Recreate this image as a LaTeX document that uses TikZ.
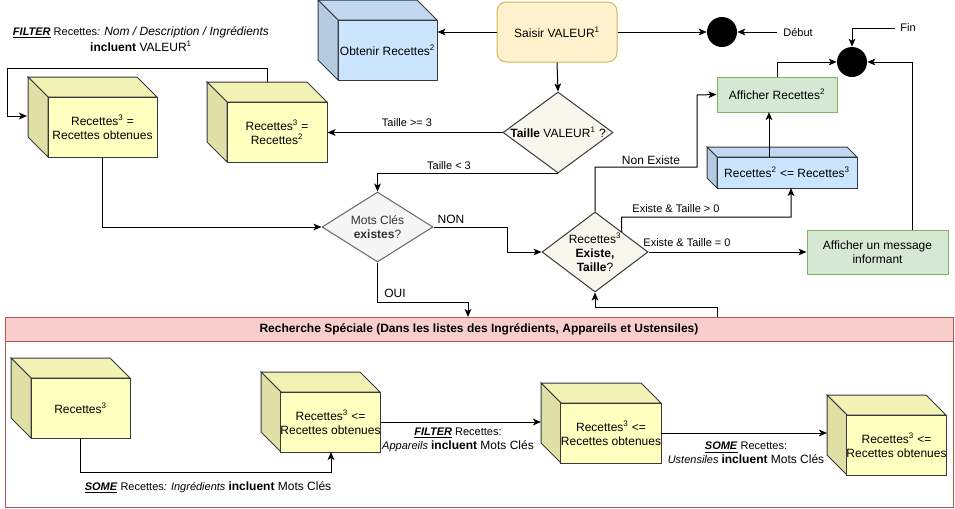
\documentclass[tikz,border=0pt]{standalone}
\usepackage{fontspec}
\setmainfont{Liberation Sans}
\usetikzlibrary{arrows.meta,shapes.geometric}
\definecolor{yfront}{RGB}{255,255,192}
\definecolor{ytop}{RGB}{242,242,180}
\definecolor{yside}{RGB}{224,224,166}
\definecolor{bfront}{RGB}{204,229,255}
\definecolor{btop}{RGB}{193,216,240}
\definecolor{bside}{RGB}{181,203,226}
\definecolor{cubestroke}{HTML}{36393D}
\definecolor{orfill}{HTML}{FFF2CC}
\definecolor{orstroke}{HTML}{D6B656}
\definecolor{grfill}{HTML}{D5E8D4}
\definecolor{grstroke}{HTML}{82B366}
\definecolor{dfill}{HTML}{F9F7ED}
\definecolor{gfill}{HTML}{F5F5F5}
\definecolor{gstroke}{HTML}{666666}
\definecolor{gtext}{HTML}{333333}
\definecolor{redfill}{HTML}{F8CECC}
\definecolor{redstroke}{HTML}{B85450}
\newcommand\mycube[8]{%
  \filldraw[cubeline, fill=#7top] ({#2-#6},{#3-#6}) -- ({#4-#6},{#3-#6}) -- (#4,#3) -- (#2,#3) -- cycle;
  \filldraw[cubeline, fill=#7side] ({#2-#6},{#3-#6}) -- (#2,#3) -- (#2,#5) -- ({#2-#6},{#5-#6}) -- cycle;
  \node[cubeline, fill=#7front, txt, inner sep=0pt, minimum width={(#4-#2)*0.75pt}, minimum height={(#5-#3)*0.75pt}] (#1) at ({(#2+#4)/2},{(#3+#5)/2}) {#8};
  \coordinate (#1top) at ({(#2-#6+#4)/2},{#3-#6});
}
\newcommand\sm{\fontsize{8.25}{9.5}\selectfont}
\newcommand\nm{\fontsize{9}{10.5}\selectfont}
\begin{document}
\begin{tikzpicture}[x=0.75pt,y=-0.75pt,
  line/.style={draw=black, line width=0.75pt},
  arr/.style={line, -{Stealth[length=6pt,width=5pt,inset=1.5pt]}},
  cubeline/.style={draw=cubestroke, line width=0.75pt},
  txt/.style={font=\nm, align=center},
  lbl/.style={font=\sm, align=center, inner sep=0pt},
  lblb/.style={font=\nm, align=center, inner sep=0pt},
  dot/.style={circle, fill=black, minimum size=22.5pt, inner sep=0pt},
  dia/.style={diamond, line width=0.75pt, inner sep=0pt, txt}
]
\useasboundingbox (0,0) rectangle (955,508);

% container
\node[draw=redstroke, line width=0.75pt, anchor=north west, inner sep=0pt,
  minimum width={948*0.75pt}, minimum height={190*0.75pt}] (special) at (5,317) {};
\filldraw[draw=redstroke, line width=0.75pt, fill=redfill] (5,317) rectangle (953,341);
\node[txt, font=\nm\bfseries] (title) at (479,329) {Recherche Spéciale (Dans les listes des Ingrédients, Appareils et Ustensiles)};

% top cubes
\mycube{cA}{48}{97}{157}{157}{20}{y}{Recettes\textsuperscript{3} =\\Recettes obtenues}
\mycube{cB}{227}{102}{327}{162}{20}{y}{Recettes\textsuperscript{3} =\\Recettes\textsuperscript{2}}
\mycube{obt}{338}{20}{437}{80}{20}{b}{Obtenir Recettes\textsuperscript{2}}
\mycube{r23}{717}{157}{857}{188}{10}{b}{Recettes\textsuperscript{2} <= Recettes\textsuperscript{3}}

% bottom cubes
\mycube{bA}{31}{378}{130}{438}{20}{y}{Recettes\textsuperscript{3}}
\mycube{bB}{281}{392}{380}{452}{20}{y}{Recettes\textsuperscript{3} <=\\Recettes obtenues}
\mycube{bC}{561}{403}{661}{463}{20}{y}{Recettes\textsuperscript{3} <=\\Recettes obtenues}
\mycube{bD}{847}{415}{946}{475}{20}{y}{Recettes\textsuperscript{3} <=\\Recettes obtenues}

% other nodes
\node[draw=orstroke, fill=orfill, line width=0.75pt, rounded corners=7pt, txt,
  minimum width={120*0.75pt}, minimum height={60*0.75pt}] (saisir) at (557,32) {Saisir VALEUR\textsuperscript{1}};
\node[dot] (start) at (722,32) {};
\node[dot] (end) at (852,62) {};
\node[draw=grstroke, fill=grfill, line width=0.75pt, txt,
  minimum width={120*0.75pt}, minimum height={35*0.75pt}] (aff) at (777,94.5) {Afficher Recettes\textsuperscript{2}};
\node[draw=grstroke, fill=grfill, line width=0.75pt, txt,
  minimum width={141*0.75pt}, minimum height={44*0.75pt}] (msg) at (877.5,252) {Afficher un message\\informant};
\node[dia, draw=cubestroke, fill=dfill, aspect=1.358, minimum width={110*0.75pt}, minimum height={81*0.75pt}] (taille) at (558,132.5)
  {\makebox[0pt]{\textbf{Taille} VALEUR\textsuperscript{1} ?}};
\node[dia, draw=gstroke, fill=gfill, text=gtext, aspect=1.586, minimum width={111*0.75pt}, minimum height={70*0.75pt}] (mots) at (377.5,227)
  {Mots Clés\\\textbf{existes}?};
\node[dia, draw=cubestroke, fill=dfill, aspect=1.325, minimum width={106*0.75pt}, minimum height={80*0.75pt}] (d3) at (595,252)
  {Recettes\textsuperscript{3}\\\textbf{Existe,}\\\textbf{Taille}?};

% text labels
\node[lbl] (debut) at (798,32) {Début};
\node[lbl] (fin) at (908,28) {Fin};
\coordinate (debutc) at (777,32);
\coordinate (finc) at (895,28);
\node[lbl] (ltop) at (141,39.5) {\underline{\textbf{\textit{FILTER}}} Recettes\textit{: {\nm Nom / Description / Ingrédients}}\\[1pt]
  {\nm\textbf{incluent} VALEUR\textsuperscript{1}}};
\node[lbl] (l1) at (407,123) {Taille >= 3};
\node[lbl] (l2) at (449,166) {Taille < 3};
\node[lblb] (l3) at (451,219) {NON};
\node[lblb] (l4) at (395,293) {OUI};
\node[lblb] (l5) at (651,160) {Non Existe};
\node[lbl] (l6) at (676,209) {Existe \& Taille > 0};
\node[lbl] (l7) at (687,243) {Existe \& Taille = 0};
\node[lbl] (l8) at (208,487) {\underline{\textbf{\textit{SOME}}} Recettes\textit{: Ingrédients} {\nm\textbf{incluent} Mots Clés}};
\node[lbl] (l9) at (458,440) {\underline{\textbf{\textit{FILTER}}} Recettes:\\[1pt] \textit{Appareils} {\nm\textbf{incluent} Mots Clés}};
\node[lbl] (l10) at (746,453) {\underline{\textbf{\textit{SOME}}} Recettes:\\[1pt] \textit{Ustensiles} {\nm\textbf{incluent} Mots Clés}};

% connectors
\draw[arr] (saisir.west) -- (saisir.west -| obt.east);
\draw[arr] (saisir.east) -- (start.west);
\draw[arr] (debutc) -- (start.east);
\draw[arr] (finc) -| (end.north);
\draw[arr] (saisir.south) -- (taille.north);
\draw[arr] (taille.west) -- (taille.west -| cB.east);
\draw[arr] (taille.south) -| (mots.north);
\draw[arr] (cA.south) |- (mots.west);
\draw[arr] (cBtop) -- (267,68) -- (7,68) -- (7,116) -- (27,116);
\draw[arr] (mots.east) -- (507,227) -- (507,252) -- (d3.west);
\draw[arr] (mots.south) -- (377.5,302) -- (468,302) -- (468,317);
\draw[arr] (d3.north) -- (595,167) -- (697,167) -- (697,95) -- (aff.west);
\draw[arr] (d3.north east) -- (621.5,217) -- (791,217) -- (791,188);
\draw[arr] (d3.east) -- (msg.west);
\draw[arr] (769,157) -- (769,112);
\draw[arr] (aff.north) -- (777,62) -- (end.west);
\draw[arr] (912,230) -- (912,62) -- (end.east);
\draw[arr] (717,317) -- (717,307) -- (595,307) -- (d3.south);
\draw[arr] (bA.south) -- (80.5,472) -- (331,472) -- (331,452);
\draw[arr] (bB.east |- 0,422) -- (541,422);
\draw[arr] (661,433) -- (827,433);
\end{tikzpicture}
\end{document}
